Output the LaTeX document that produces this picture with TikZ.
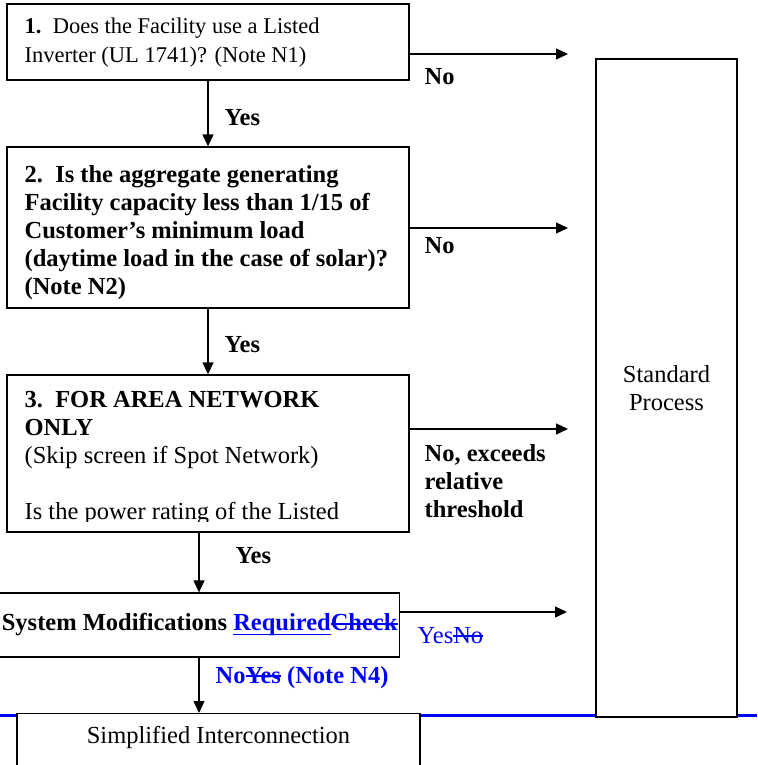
\documentclass[tikz,border=0pt]{standalone}
\usepackage{fontspec}
\setmainfont{Liberation Serif}
\usepackage{tikz}
\usetikzlibrary{arrows.meta}
\newcommand{\txtsize}{\fontsize{24.5}{28}\selectfont}
\newlength{\marklen}
\newcommand{\strk}[1]{\settowidth{\marklen}{#1}\rlap{\rule[0.25em]{\marklen}{1.6pt}}#1}
\newcommand{\undl}[1]{\settowidth{\marklen}{#1}\rlap{\rule[-0.17em]{\marklen}{1.6pt}}#1}

\begin{document}
\begin{tikzpicture}[->,>={Triangle[length=12pt,width=11pt]},line width=1.3pt,
        x=1pt,y=-1pt,font=\txtsize,
        box/.style={draw,fill=white,minimum width=402pt},
        qtext/.style={anchor=north west,inner sep=0pt,align=flush left},
        lbl/.style={font=\txtsize\bfseries,inner sep=0pt,anchor=base west}]

  \useasboundingbox (0,0) rectangle (757,765);

  % blue rule behind the bottom boxes
  \coordinate (rl) at (0,715);
  \coordinate (rr) at (757,715);
  \draw[-,blue,line width=3pt] (rl) -- (rr);

  \node[box,minimum height=76pt] (b1) at (208,42) {};
  \node[qtext,font=\fontsize{22.5}{29}\selectfont] (t1) at (24,17.6)
    {\textbf{1.}\enspace Does the Facility use a Listed\\Inverter (UL 1741)? (Note N1)};
  \node[box,minimum height=161pt] (b2) at (208,227.5) {};
  \node[qtext,font=\txtsize\bfseries] (t2) at (24,164.4)
    {2.\enspace Is the aggregate generating\\Facility capacity less than 1/15 of\\
     Customer’s minimum load\\(daytime load in the case of solar)?\\(Note N2)};
  \node[box,minimum height=157pt] (b3) at (208,453.5) {};
  \begin{scope}
    \clip (b3.north west) rectangle ([yshift=11pt]b3.south east);
    \node[qtext] (t3) at (24,390.8)
      {{\bfseries 3.\enspace FOR AREA NETWORK}\\{\bfseries ONLY}\\
       (Skip screen if Spot Network)\\[28pt]Is the power rating of the Listed};
  \end{scope}
  \node[draw,fill=white,minimum width=407pt,minimum height=64pt,inner xsep=2pt,
        text width=403pt,align=flush right,font=\txtsize\bfseries] (b4) at (196,625)
    {System Modifications \textcolor{blue}{\undl{Required}\strk{Check}}};
  \node[draw,fill=white,anchor=north,minimum width=403pt,inner ysep=14pt,
        text height=16pt,text depth=40pt] (b5) at (218.5,713) {Simplified Interconnection};
  \node[draw,fill=white,minimum width=141pt,minimum height=658pt,align=center] (std)
    at (666.5,388) {Standard\\Process};

  \coordinate (e1) at (568,54);
  \coordinate (e2) at (568,228);
  \coordinate (e3) at (568,429);
  \coordinate (e4) at (567,612);
  \coordinate (c3) at ([xshift=-9pt]b3.south);

  \draw (b1.east |- e1) -- (e1);
  \draw (b2.east |- e2) -- (e2);
  \draw (b3.east |- e3) -- (e3);
  \draw (b4.east |- e4) -- (e4);
  \draw (b1.south) -- (b2.north);
  \draw (b2.south) -- (b3.north);
  \draw (c3) -- (c3 |- b4.north);
  \draw (c3 |- b4.south) -- (c3 |- b5.north);

  \node[lbl] (no1) at (424,85) {No};
  \node[lbl] (no2) at (424,253) {No};
  \node[lbl,anchor=north west,align=flush left] (no3) at (424,443.5)
    {No, exceeds\\relative\\threshold};
  \node[lbl] (yes1) at (224,125) {Yes};
  \node[lbl] (yes2) at (224,352) {Yes};
  \node[lbl] (yes3) at (235,563) {Yes};
  \node[lbl,font=\txtsize,text=blue] (yes4) at (417,643) {Yes\strk{No}};
  \node[lbl,text=blue] (no4) at (215,683) {No\strk{Yes} (Note N4)};

\end{tikzpicture}
\end{document}
